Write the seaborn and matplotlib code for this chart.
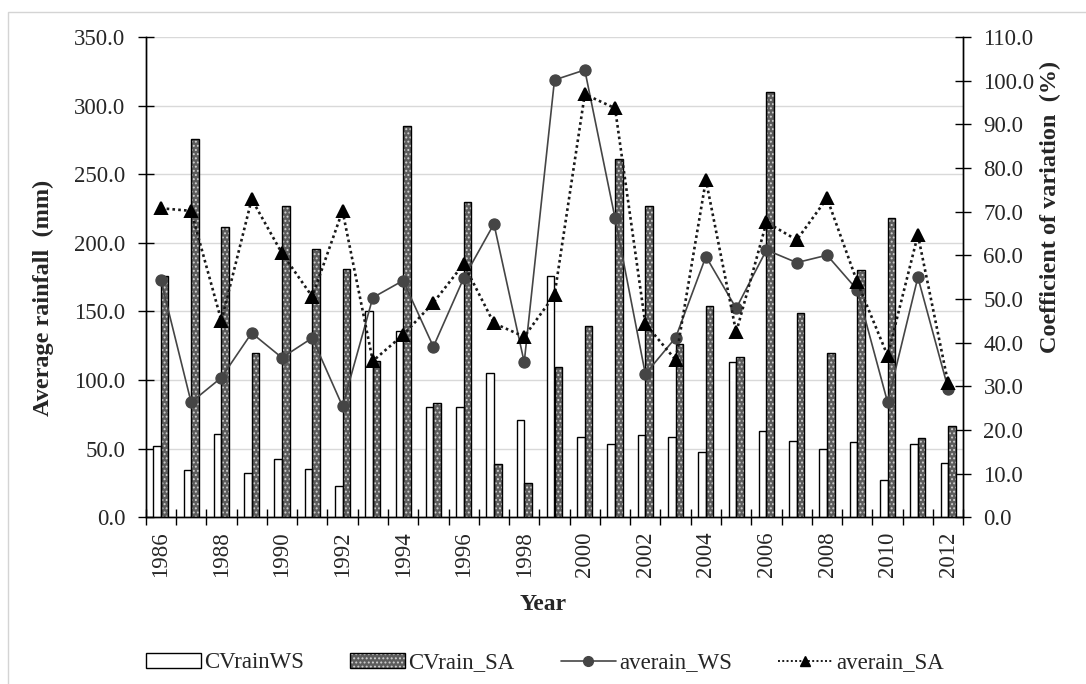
import matplotlib
matplotlib.use("Agg")
import matplotlib.pyplot as plt
import numpy as np
import pandas as pd
import seaborn as sns
from matplotlib.patches import Patch, Rectangle
from matplotlib.lines import Line2D
from matplotlib.legend_handler import HandlerTuple
from matplotlib.ticker import FormatStrFormatter, FixedLocator

# ---- data -------------------------------------------------------------
years = [str(y) for y in range(1986, 2013)]

# coefficient of variation of rainfall (%)
cv_rain_ws = [16.4, 10.8, 19.0, 10.2, 13.3, 11.0, 7.1, 47.3, 42.7, 25.2,
              25.2, 33.1, 22.3, 55.3, 18.4, 16.7, 18.9, 18.4, 15.0, 35.6,
              19.8, 17.5, 15.6, 17.2, 8.5, 16.7, 12.4]
cv_rain_sa = [55.3, 86.6, 66.4, 37.6, 71.3, 61.4, 56.8, 35.8, 89.7, 26.2,
              72.2, 12.1, 7.9, 34.5, 43.8, 82.1, 71.3, 39.6, 48.4, 36.7,
              97.4, 46.9, 37.6, 56.6, 68.5, 18.1, 20.9]

# average rainfall (mm)
avg_rain_ws = [173.0, 83.8, 101.8, 134.3, 116.3, 130.7, 80.9, 160.1, 172.5,
               124.3, 174.2, 213.8, 113.0, 318.7, 326.0, 217.9, 104.4, 130.9,
               190.0, 152.3, 194.8, 185.6, 191.0, 165.7, 83.8, 174.9, 93.7]
avg_rain_sa = [225.2, 223.3, 143.1, 231.8, 192.4, 160.8, 223.3, 113.9, 132.9,
               156.4, 184.6, 141.4, 131.6, 162.0, 308.3, 298.1, 140.9, 114.7,
               245.8, 134.8, 215.0, 202.1, 232.5, 171.3, 117.8, 205.8, 97.7]

bar_names = ["CVrainWS", "CVrain_SA"]
line_names = ["averain_WS", "averain_SA"]

cv_df = pd.DataFrame({
    "year": years * 2,
    "cv": cv_rain_ws + cv_rain_sa,
    "series": [bar_names[0]] * len(years) + [bar_names[1]] * len(years),
})
ws_df = pd.DataFrame({"year": years, "rain": avg_rain_ws})
sa_df = pd.DataFrame({"year": years, "rain": avg_rain_sa})

# ---- style ------------------------------------------------------------
sns.set_theme(style="white")
plt.rcParams["font.family"] = ["Liberation Serif", "DejaVu Serif"]
plt.rcParams["hatch.linewidth"] = 0.9

FS = 16.5
SA_FILL = "#5c5c5c"
SA_DOTS = "#d0d0d0"
DOTTED = (0, (1, 1.2))

W, H = 1086, 684
fig = plt.figure(figsize=(W / 100, H / 100), dpi=100)
fig.patch.set_facecolor("white")

left, right, top, bottom = 145.7, 963.3, 37.0, 517.3
ax = fig.add_axes([left / W, 1 - bottom / H, (right - left) / W, (bottom - top) / H])
ax2 = ax.twinx()   # bars: coefficient of variation
ax3 = ax.twinx()   # lines: average rainfall

# ---- bars ---------------------------------------------------------------
bar_fill = {"CVrainWS": "white", "CVrain_SA": SA_FILL}
sns.barplot(data=cv_df, x="year", y="cv", hue="series", hue_order=bar_names,
            order=years, palette=bar_fill, width=0.5, linewidth=0,
            legend=False, ax=ax2)
for p in ax2.containers[1]:
    p.set_hatch("....")
    p.set_edgecolor(SA_DOTS)
    p.set_linewidth(0)
sns.barplot(data=cv_df, x="year", y="cv", hue="series", hue_order=bar_names,
            order=years, palette={n: "black" for n in bar_names}, width=0.5,
            fill=False, linewidth=1.0, legend=False, ax=ax2)

# ---- lines --------------------------------------------------------------
sns.pointplot(data=ws_df, x="year", y="rain", order=years, color="#454545",
              markers="o", linestyles="-", markersize=8, linewidth=1.2,
              errorbar=None, ax=ax3)
sns.pointplot(data=sa_df, x="year", y="rain", order=years, color="#1a1a1a",
              markers="^", linestyles=":", markersize=9, linewidth=1.9,
              errorbar=None, ax=ax3)
for ln in ax3.lines:
    if ln.get_linestyle() == ":":
        ln.set_linestyle(DOTTED)
        ln.set_markerfacecolor("black")
        ln.set_markeredgecolor("black")

# ---- axes ---------------------------------------------------------------
n = len(years)
for a in (ax, ax2, ax3):
    a.set_xlim(-0.5, n - 0.5)

ax.set_ylim(0, 350)
ax3.set_ylim(0, 350)
ax2.set_ylim(0, 110)

ax.set_yticks(np.arange(0, 351, 50))
ax.yaxis.set_major_formatter(FormatStrFormatter("%.1f"))
ax2.set_yticks(np.arange(0, 111, 10))
ax2.yaxis.set_major_formatter(FormatStrFormatter("%.1f"))
ax.grid(axis="y", color="#d9d9d9", linewidth=1.0)
ax.grid(axis="x", visible=False)
ax2.grid(False)
ax3.grid(False)

ax3.yaxis.set_visible(False)
for a in (ax2, ax3):
    a.set_xlabel("")
    a.set_ylabel("")
for s in ax3.spines.values():
    s.set_visible(False)

for a in (ax, ax2):
    for side in ("left", "right", "bottom"):
        a.spines[side].set_visible(True)
        a.spines[side].set_color("black")
        a.spines[side].set_linewidth(1.0)
    a.spines["top"].set_visible(False)

ax.tick_params(axis="y", which="major", direction="inout", length=11, width=1,
               color="black", labelsize=FS, pad=9, left=True, labelleft=True)
ax2.tick_params(axis="y", which="major", direction="inout", length=11, width=1,
                color="black", labelsize=FS, pad=9, right=True, labelright=True)

# year labels at category centres, tick marks at category boundaries
ax.xaxis.set_major_locator(FixedLocator(np.arange(n)))
ax.set_xticklabels([y if i % 2 == 0 else "" for i, y in enumerate(years)],
                   rotation=90)
ax.xaxis.set_minor_locator(FixedLocator(np.arange(n + 1) - 0.5))
ax.tick_params(axis="x", which="major", length=0, labelsize=FS, pad=10)
ax.tick_params(axis="x", which="minor", direction="inout", length=11, width=1,
               color="black", bottom=True)

ax.set_xlabel("Year", fontsize=17, fontweight="bold", va="center")
ax.xaxis.set_label_coords(0.486, (bottom - 605) / (bottom - top))
ax.set_ylabel("Average rainfall  (mm)", fontsize=17.5, fontweight="bold",
              va="center", ha="center")
ax.yaxis.set_label_coords((43 - left) / (right - left),
                          (bottom - 297.5) / (bottom - top))
ax2.set_ylabel("Coefficient of variation  (%)", fontsize=17.5, fontweight="bold",
               va="center", ha="center", rotation=90)
ax2.yaxis.set_label_coords((1050 - left) / (right - left),
                           (bottom - 206.7) / (bottom - top))

# ---- legend -------------------------------------------------------------
h_ws = Patch(facecolor="white", edgecolor="black", linewidth=1.0)
h_sa = (Patch(facecolor=SA_FILL, edgecolor=SA_DOTS, hatch="....", linewidth=0),
        Patch(facecolor="none", edgecolor="black", linewidth=1.0))
h_lw = Line2D([], [], color="#454545", linewidth=1.2, marker="o",
              markersize=7)
h_ls = Line2D([], [], color="#1a1a1a", linewidth=1.4, linestyle=DOTTED,
              marker="^", markersize=7, markerfacecolor="black",
              markeredgecolor="black")
fig.legend([h_ws, h_sa, h_lw, h_ls], bar_names + line_names,
           handler_map={tuple: HandlerTuple(ndivide=1, pad=0)},
           loc="center", bbox_to_anchor=(545 / W, 1 - 663 / H), ncol=4,
           frameon=False, fontsize=FS, handlelength=2.4, handleheight=0.6,
           handletextpad=0.15, columnspacing=2.0)

# light frame around the chart area
fig.patches.append(Rectangle((8 / W, -0.1), 1.2, 1.1 - 12 / H,
                             transform=fig.transFigure, fill=False,
                             edgecolor="#d4d4d4", linewidth=1.0))

fig.savefig("out.png", dpi=100)
